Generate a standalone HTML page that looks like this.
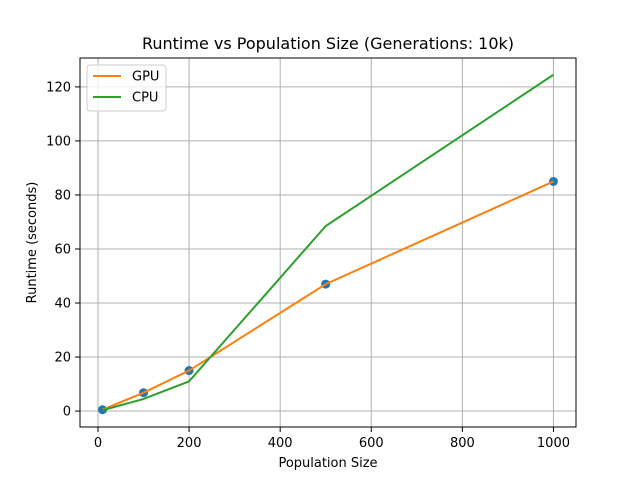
<!DOCTYPE html>
<html><head><meta charset="utf-8"><style>
body{margin:0;background:#fff;font-family:"DejaVu Sans","Liberation Sans",sans-serif;}
svg text{font-family:"DejaVu Sans","Liberation Sans",sans-serif;}
</style></head><body>
<svg id="chart" width="640" height="480" xmlns="http://www.w3.org/2000/svg">
<rect width="640" height="480" fill="#fff"/>
<text x="328" y="49" font-size="16" text-anchor="middle">Runtime vs Population Size (Generations: 10k)</text>
<g id="grid"></g><g id="marks"></g><g id="axes"></g>
<rect x="80" y="58" width="496" height="369" fill="none" stroke="#000" stroke-width="1"/>
<text x="328" y="467" font-size="13" text-anchor="middle">Population Size</text>
<text transform="translate(36,242.5) rotate(-90)" font-size="13" text-anchor="middle">Runtime (seconds)</text>
<g>
<rect x="87" y="65" width="79" height="46" rx="3" fill="#fff" fill-opacity="0.8" stroke="#ccc"/>
<line x1="93" y1="76" x2="121" y2="76" stroke="#ff7f0e" stroke-width="2"/>
<text x="132" y="80.5" font-size="13">GPU</text>
<line x1="93" y1="97" x2="121" y2="97" stroke="#2ca02c" stroke-width="2"/>
<text x="132" y="101.5" font-size="13">CPU</text>
</g>
</svg>
<script>
const populations=[10,100,200,500,1000];
const gpuTimes=[0.5,6.8,15,47,85];
const cpuTimes=[0.3,4.5,11,68.5,124.5];
const xTicks=[0,200,400,600,800,1000];
const yTicks=[0,20,40,60,80,100,120];
const NS="http://www.w3.org/2000/svg";
const X0=80,X1=576,Y0=427,Y1=58;
const xmin=-39.5,xmax=1049.5,ymin=-5.9,ymax=130.7;
const sx=v=>X0+(v-xmin)/(xmax-xmin)*(X1-X0);
const sy=v=>Y0-(v-ymin)/(ymax-ymin)*(Y0-Y1);
function mk(t,a,p){const e=document.createElementNS(NS,t);for(const k in a)e.setAttribute(k,a[k]);document.getElementById(p).appendChild(e);return e;}
xTicks.forEach(t=>{const x=sx(t);
const g=mk('line',{x1:x,x2:x,y1:Y1,y2:Y0,stroke:'#b0b0b0','stroke-width':1},'grid');


mk('line',{x1:x,x2:x,y1:Y0,y2:Y0+5,stroke:'#000','stroke-width':1},'axes');
const l=mk('text',{x:x,y:Y0+20,'font-size':13,'text-anchor':'middle'},'axes');l.textContent=t;

});
yTicks.forEach(t=>{const y=sy(t);
const g=mk('line',{x1:X0,x2:X1,y1:y,y2:y,stroke:'#b0b0b0','stroke-width':1},'grid');


mk('line',{x1:X0-5,x2:X0,y1:y,y2:y,stroke:'#000','stroke-width':1},'axes');
const l=mk('text',{x:X0-9,y:y+4.5,'font-size':13,'text-anchor':'end'},'axes');l.textContent=t;

});
populations.forEach((p,i)=>{const c=mk('circle',{cx:sx(p),cy:sy(gpuTimes[i]),r:4.5,fill:'#1f77b4'},'marks');

});
const gl=mk('polyline',{points:populations.map((p,i)=>sx(p)+','+sy(gpuTimes[i])).join(' '),fill:'none',stroke:'#ff7f0e','stroke-width':2},'marks');


const cl=mk('polyline',{points:populations.map((p,i)=>sx(p)+','+sy(cpuTimes[i])).join(' '),fill:'none',stroke:'#2ca02c','stroke-width':2},'marks');


</script>
</body></html>
